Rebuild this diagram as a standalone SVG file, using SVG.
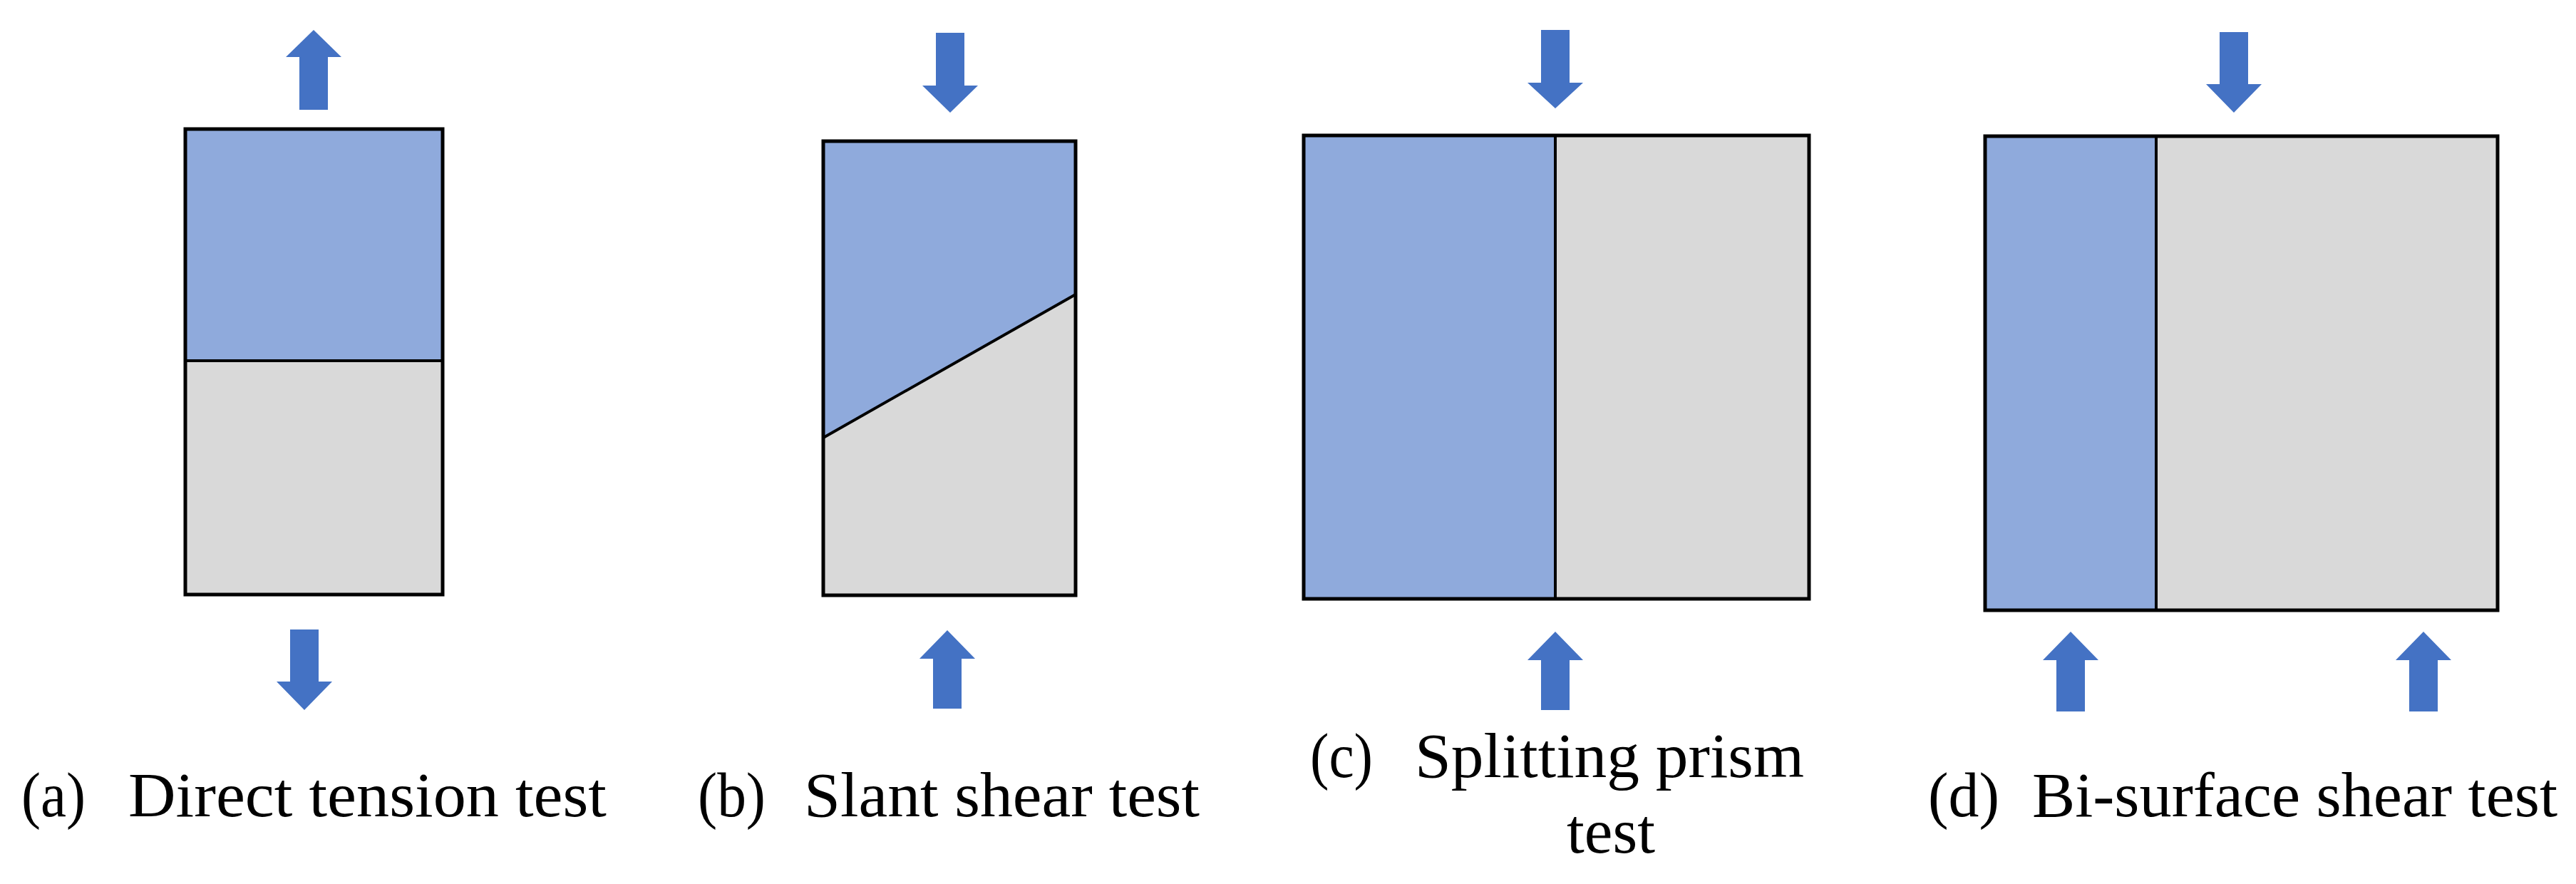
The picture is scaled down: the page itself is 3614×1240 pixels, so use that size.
<svg xmlns="http://www.w3.org/2000/svg" width="3614" height="1240" viewBox="0 0 3614 1240">
<style>
.b{fill:#8FAADC}.g{fill:#D9D9D9}.o{fill:none;stroke:#000;stroke-width:5}.l{stroke:#000;stroke-width:4}
.ar{fill:#4472C4}
text{font-family:"Liberation Serif","DejaVu Serif",serif;font-size:88px;fill:#000}
</style>
<rect width="3614" height="1240" fill="#fff"/>
<g id="panel-a">
<rect class="b" x="260" y="181" width="361" height="325"/>
<rect class="g" x="260" y="506" width="361" height="328"/>
<line class="l" x1="260" y1="506" x2="621" y2="506"/>
<rect class="o" x="260" y="181" width="361" height="653"/>
<text x="30" y="1145" textLength="90" lengthAdjust="spacingAndGlyphs">(a)</text>
<text x="180" y="1145" textLength="671" lengthAdjust="spacingAndGlyphs">Direct tension test</text>
</g>
<g id="panel-b">
<polygon class="b" points="1155,198 1509,198 1509,413 1155,614"/>
<polygon class="g" points="1155,614 1509,413 1509,835 1155,835"/>
<line class="l" x1="1155" y1="614" x2="1509" y2="413"/>
<rect class="o" x="1155" y="198" width="354" height="637"/>
<text x="979" y="1145" textLength="95" lengthAdjust="spacingAndGlyphs">(b)</text>
<text x="1128" y="1145" textLength="555" lengthAdjust="spacingAndGlyphs">Slant shear test</text>
</g>
<g id="panel-c">
<rect class="b" x="1829" y="190" width="353" height="650"/>
<rect class="g" x="2182" y="190" width="356" height="650"/>
<line class="l" x1="2182" y1="190" x2="2182" y2="840"/>
<rect class="o" x="1829" y="190" width="709" height="650"/>
<text x="1838" y="1090" textLength="88" lengthAdjust="spacingAndGlyphs">(c)</text>
<text x="1985" y="1090" textLength="546" lengthAdjust="spacingAndGlyphs">Splitting prism</text>
<text x="2198" y="1196" textLength="124" lengthAdjust="spacingAndGlyphs">test</text>
</g>
<g id="panel-d">
<rect class="b" x="2785" y="191" width="240" height="665"/>
<rect class="g" x="3025" y="191" width="479" height="665"/>
<line class="l" x1="3025" y1="191" x2="3025" y2="856"/>
<rect class="o" x="2785" y="191" width="719" height="665"/>
<text x="2705" y="1145" textLength="100" lengthAdjust="spacingAndGlyphs">(d)</text>
<text x="2851" y="1145" textLength="737" lengthAdjust="spacingAndGlyphs">Bi-surface shear test</text>
</g>
<g id="connectors" class="ar">
<polygon points="420,154 460,154 460,80 479,80 440,42 401,80 420,80"/>
<polygon points="407,883 447,883 447,956 466,956 427,996 388,956 407,956"/>
<polygon points="1313,46 1353,46 1353,120 1372,120 1333,158 1294,120 1313,120"/>
<polygon points="1309,994 1349,994 1349,924 1368,924 1329,884 1290,924 1309,924"/>
<polygon points="2162,42 2202,42 2202,116 2221,116 2182,152 2143,116 2162,116"/>
<polygon points="2162,996 2202,996 2202,926 2221,926 2182,886 2143,926 2162,926"/>
<polygon points="3114,45 3154,45 3154,118 3173,118 3134,158 3095,118 3114,118"/>
<polygon points="2885,998 2925,998 2925,926 2944,926 2905,886 2866,926 2885,926"/>
<polygon points="3380,998 3420,998 3420,926 3439,926 3400,886 3361,926 3380,926"/>
</g>
</svg>
